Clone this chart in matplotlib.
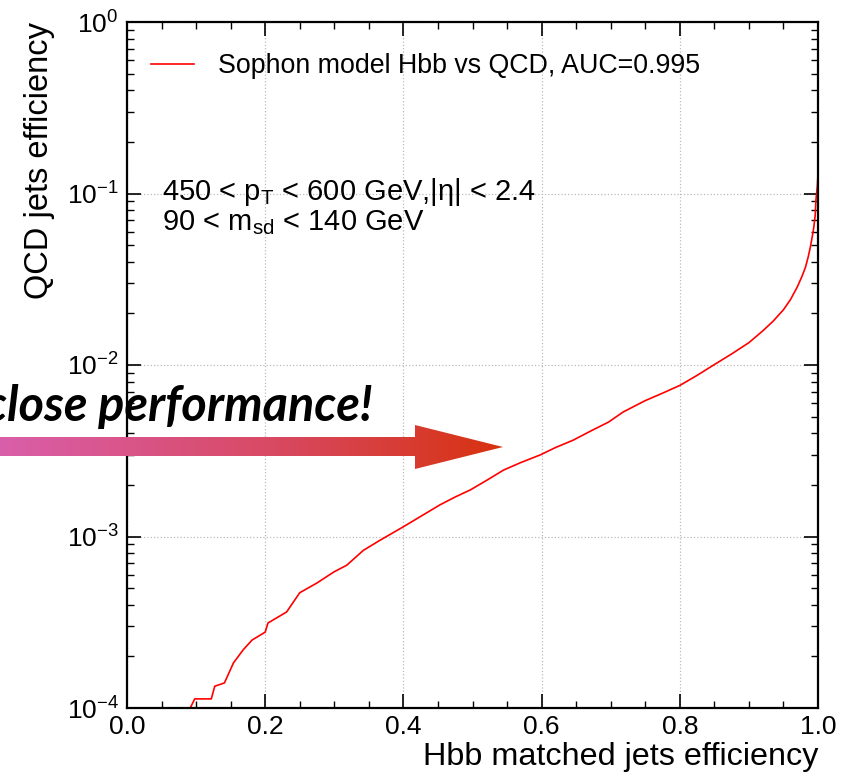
import numpy as np
import matplotlib
matplotlib.use("Agg")
import matplotlib.pyplot as plt
from matplotlib.ticker import MultipleLocator, LogLocator, NullFormatter
from matplotlib.patches import Polygon
from matplotlib.colors import LinearSegmentedColormap

plt.rcParams['font.family'] = ['Liberation Sans', 'DejaVu Sans']
plt.rcParams['mathtext.fontset'] = 'custom'
plt.rcParams['mathtext.rm'] = 'Liberation Sans'
plt.rcParams['mathtext.it'] = 'Liberation Sans:italic'
plt.rcParams['mathtext.bf'] = 'Liberation Sans:bold'

# ROC curve
sig_eff = [0.0915, 0.098, 0.122, 0.127, 0.141, 0.154, 0.168, 0.181, 0.200, 0.204,
           0.231, 0.250, 0.275, 0.299, 0.318, 0.342, 0.366, 0.400, 0.425, 0.453,
           0.475, 0.497, 0.520, 0.545, 0.570, 0.598, 0.620, 0.646, 0.670, 0.697,
           0.718, 0.750, 0.775, 0.800, 0.825, 0.849, 0.875, 0.900, 0.920, 0.935,
           0.950, 0.960, 0.970, 0.977, 0.982, 0.986, 0.989, 0.992, 0.994, 0.996,
           0.997, 0.999, 1.000]
bkg_eff = [1.00e-4, 1.13e-4, 1.13e-4, 1.34e-4, 1.40e-4, 1.83e-4, 2.18e-4, 2.49e-4, 2.77e-4, 3.13e-4,
           3.63e-4, 4.70e-4, 5.36e-4, 6.20e-4, 6.80e-4, 8.30e-4, 9.50e-4, 1.14e-3, 1.31e-3, 1.53e-3,
           1.70e-3, 1.87e-3, 2.12e-3, 2.44e-3, 2.70e-3, 2.99e-3, 3.30e-3, 3.65e-3, 4.10e-3, 4.65e-3,
           5.32e-3, 6.20e-3, 6.85e-3, 7.60e-3, 8.70e-3, 1.00e-2, 1.16e-2, 1.35e-2, 1.58e-2, 1.80e-2,
           2.10e-2, 2.40e-2, 2.85e-2, 3.30e-2, 3.73e-2, 4.30e-2, 4.88e-2, 5.70e-2, 6.38e-2, 7.50e-2,
           9.17e-2, 1.10e-1, 1.30e-1]
legend_label = "Sophon model Hbb vs QCD, AUC=0.995"
x_label = "Hbb matched jets efficiency"
y_label = "QCD jets efficiency"
cut_text = "450 < p$_\\mathrm{T}$ < 600 GeV,|η| < 2.4\n90 < m$_\\mathrm{sd}$ < 140 GeV"
banner_text = "close performance!"

W, H = 851, 776
fig = plt.figure(figsize=(W / 100, H / 100), dpi=100)
ax = fig.add_axes([127 / W, 1 - 708 / H, (818 - 127) / W, (708 - 22) / H])

ax.plot(sig_eff, bkg_eff, color='red', lw=1.2, label=legend_label)
ax.set_yscale('log')
ax.set_xlim(0, 1)
ax.set_ylim(1e-4, 1)

ax.xaxis.set_major_locator(MultipleLocator(0.2))
ax.xaxis.set_minor_locator(MultipleLocator(0.05))
ax.yaxis.set_major_locator(LogLocator(base=10, numticks=10))
ax.yaxis.set_minor_locator(LogLocator(base=10, subs=np.arange(2, 10), numticks=20))
ax.yaxis.set_minor_formatter(NullFormatter())
ax.xaxis.set_major_formatter(matplotlib.ticker.FormatStrFormatter('%.1f'))

ax.tick_params(which='both', direction='in', top=True, right=True, labelsize=19)
ax.tick_params(which='major', length=10, width=1.2)
ax.tick_params(which='minor', length=5, width=1.0)
ax.tick_params(axis='x', which='major', pad=5)
ax.tick_params(axis='y', which='major', pad=6)
for s in ax.spines.values():
    s.set_linewidth(1.6)

ax.grid(True, which='major', ls=':', color='#bbbbbb', lw=0.9)

ax.set_xlabel(x_label, fontsize=23.3, loc='right', labelpad=2)
ax.set_ylabel(y_label, fontsize=23.5, loc='top', labelpad=8)

ax.legend(loc='upper left', bbox_to_anchor=(0.0, 0.99), frameon=False, fontsize=19.3,
          handlelength=1.6, handletextpad=0.9)

ax.text(0.05, 0.775, cut_text, transform=ax.transAxes, fontsize=21, va='top',
        ha='left', linespacing=1.0)

# overlay: gradient arrow and banner text
ov = fig.add_axes([0, 0, 1, 1], zorder=10)
ov.axis('off')
ov.patch.set_alpha(0)
arrow_pts = [(0, 437), (415, 437), (415, 425), (503, 447), (415, 469), (415, 456), (0, 456)]
poly = Polygon(arrow_pts, closed=True, facecolor='none', edgecolor='none')
ov.add_patch(poly)
cmap = LinearSegmentedColormap.from_list('g', [(0, '#DA5FAA'), (0.55, '#D84962'), (1, '#D7320F')])
grad = np.linspace(0, 1, 256).reshape(1, -1)
im = ov.imshow(grad, cmap=cmap, extent=[0, 503, 469, 425], aspect='auto', interpolation='bilinear')
im.set_clip_path(poly)
ov.set_xlim(0, W)
ov.set_ylim(H, 0)

ov.text(373, 421, banner_text, ha='right', va='baseline', fontsize=35,
        family=['Lato', 'DejaVu Sans'], weight='bold', style='italic', color='black')

fig.savefig('out.png', dpi=100)
